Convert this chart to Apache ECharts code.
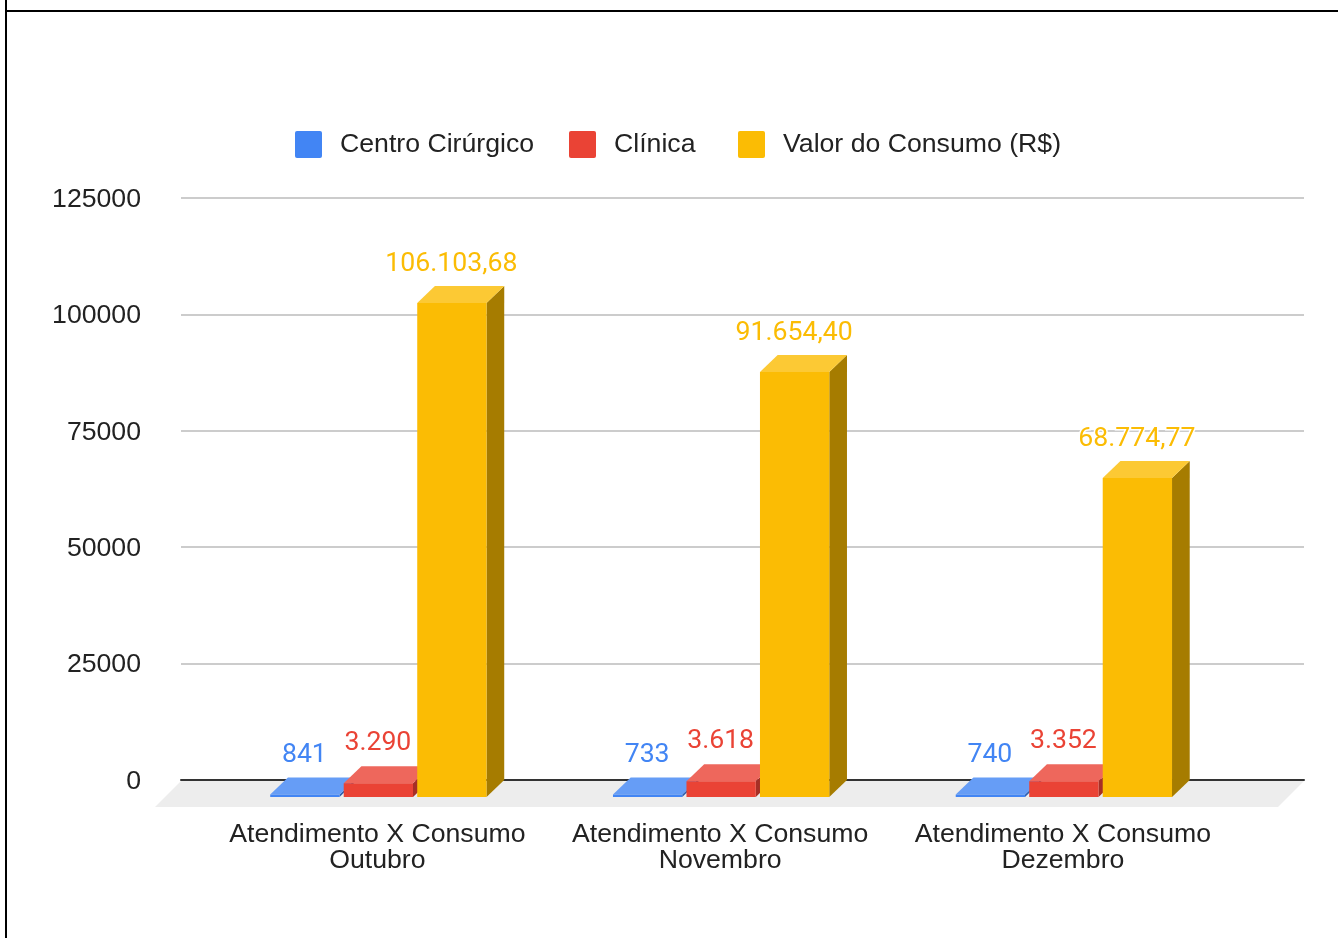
<!DOCTYPE html>
<html>
<head>
<meta charset="utf-8">
<style>html,body{margin:0;padding:0;background:#fff}#c{width:1338px;height:938px}</style>
<script src="https://cdn.jsdelivr.net/npm/echarts@6/dist/echarts.min.js"></script>
</head>
<body>
<div id="c"></div>
<script>
const categories = ['Atendimento X Consumo\nOutubro', 'Atendimento X Consumo\nNovembro', 'Atendimento X Consumo\nDezembro'];
const centroCirurgico = [550, 550, 550];
const clinica = [2950, 3370, 3370];
const valorConsumo = [106103.68, 91300, 68500];
const centroLabels = ['841', '733', '740'];
const clinicaLabels = ['3.290', '3.618', '3.352'];
const valorLabels = ['106.103,68', '91.654,40', '68.774,77'];
const seriesNames = ['Centro Cirúrgico', 'Clínica', 'Valor do Consumo (R$)'];
const yTicks = { min: 0, max: 125000, interval: 25000 };

const FONT = '"Liberation Sans", Arial, sans-serif';
const LABEL_FONT = 'Roboto, Arial, sans-serif';
const FS = 26.67;
const palette = [
  { front: '#4285f4', top: '#669df6', side: '#2f5fae' },
  { front: '#ea4335', top: '#ee675c', side: '#a62f26' },
  { front: '#fbbc04', top: '#fcc934', side: '#a67c00' }
];
const DEPTH = 17, DEPTH_X = 17.7, BAR_W = 69.3, STEP = 73.5, SHIFT = 1;
const ICON = 'path://M2,0H25A2,2 0 0 1 27,2V25A2,2 0 0 1 25,27H2A2,2 0 0 1 0,25V2A2,2 0 0 1 2,0Z';
const legendLefts = [295, 569, 738];
const labelRise = [22.5, 23, 21.5];

function barRenderer(idx, labels) {
  return function (params, api) {
    const c = api.coord([api.value(0), api.value(1)]);
    const base = api.coord([api.value(0), 0]);
    const cx = c[0] + SHIFT + (idx - 1) * STEP;
    const l = cx - BAR_W / 2, r = cx + BAR_W / 2;
    const fy0 = c[1] + DEPTH, fyB = base[1] + DEPTH;
    const p = palette[idx];
    return {
      type: 'group',
      children: [
        { type: 'polygon', shape: { points: [[r, fy0], [r + DEPTH_X, c[1]], [r + DEPTH_X, base[1]], [r, fyB]] }, style: { fill: p.side } },
        { type: 'polygon', shape: { points: [[l, fy0], [l + DEPTH_X, c[1]], [r + DEPTH_X, c[1]], [r, fy0]] }, style: { fill: p.top } },
        { type: 'rect', shape: { x: l, y: fy0, width: BAR_W, height: fyB - fy0 }, style: { fill: p.front } },
        { type: 'text', style: {
            x: cx - 0.5, y: c[1] - labelRise[idx], text: labels[params.dataIndex], fill: p.front,
            font: FS + 'px ' + LABEL_FONT, align: 'center', verticalAlign: 'middle',
            stroke: '#fff', lineWidth: 3, opacity: 1 },
          z2: 50 }
      ]
    };
  };
}

function floorRenderer(params) {
  const g = params.coordSys, d = 26;
  const b = g.y + g.height + 1;
  return { type: 'polygon', shape: { points: [[g.x, b], [g.x + g.width, b], [g.x + g.width - d, b + d], [g.x - d, b + d]] }, style: { fill: '#ededed' } };
}

function barSeries(name, values, labels, idx) {
  return {
    type: 'custom', name, xAxisIndex: 1, yAxisIndex: 1, clip: false, z: 5 + idx,
    itemStyle: { color: palette[idx].front },
    encode: { x: 0, y: 1 },
    data: values.map((v, i) => [i, v]),
    renderItem: barRenderer(idx, labels)
  };
}

const chart = echarts.init(document.getElementById('c'), null, { renderer: 'canvas' });
chart.setOption({
  animation: false,
  backgroundColor: '#fff',
  legend: seriesNames.map((n, i) => ({
    left: legendLefts[i], top: 131, padding: 0, itemWidth: 27, itemHeight: 27,
    icon: ICON, data: [n],
    textStyle: { fontFamily: FONT, fontSize: FS, color: '#222', padding: [0, 0, 0, 13] }
  })),
  grid: [
    { left: 181, top: 198, width: 1123, height: 582 },
    { left: 206, top: 198, width: 1028.25, height: 582 },
    { left: 181, top: 199.5, width: 1123, height: 582 }
  ],
  xAxis: [
    { type: 'category', gridIndex: 0, data: [''], axisTick: { show: false }, axisLabel: { show: false },
      axisLine: { show: true, lineStyle: { color: '#333', width: 2 } }, z: 3 },
    { type: 'category', gridIndex: 1, data: categories, axisTick: { show: false }, axisLine: { show: false },
      axisLabel: { margin: 42, interval: 0, fontFamily: FONT, fontSize: FS, lineHeight: 26, color: '#222' } },
    { type: 'category', gridIndex: 2, data: [''], show: false }
  ],
  yAxis: [
    { type: 'value', gridIndex: 0, min: yTicks.min, max: yTicks.max, interval: yTicks.interval,
      axisLine: { show: false }, axisTick: { show: false }, axisLabel: { show: false },
      splitLine: { lineStyle: { color: '#cccccc', width: 2 } } },
    { type: 'value', gridIndex: 1, min: yTicks.min, max: yTicks.max, interval: yTicks.interval, show: false, splitLine: { show: false } },
    { type: 'value', gridIndex: 2, min: yTicks.min, max: yTicks.max, interval: yTicks.interval,
      axisLine: { show: false }, axisTick: { show: false }, splitLine: { show: false },
      axisLabel: { margin: 40, fontFamily: FONT, fontSize: FS, color: '#222', formatter: v => String(v) } }
  ],
  series: [
    { type: 'custom', xAxisIndex: 0, yAxisIndex: 0, silent: true, clip: false, z: 1, data: [[0, 0]], renderItem: floorRenderer },
    barSeries(seriesNames[0], centroCirurgico, centroLabels, 0),
    barSeries(seriesNames[1], clinica, clinicaLabels, 1),
    barSeries(seriesNames[2], valorConsumo, valorLabels, 2)
  ],
  graphic: [
    { type: 'line', shape: { x1: 6, y1: 0, x2: 6, y2: 938 }, style: { stroke: '#000', lineWidth: 2 }, silent: true },
    { type: 'line', shape: { x1: 6, y1: 11, x2: 1338, y2: 11 }, style: { stroke: '#000', lineWidth: 2 }, silent: true }
  ]
});
</script>
</body>
</html>
